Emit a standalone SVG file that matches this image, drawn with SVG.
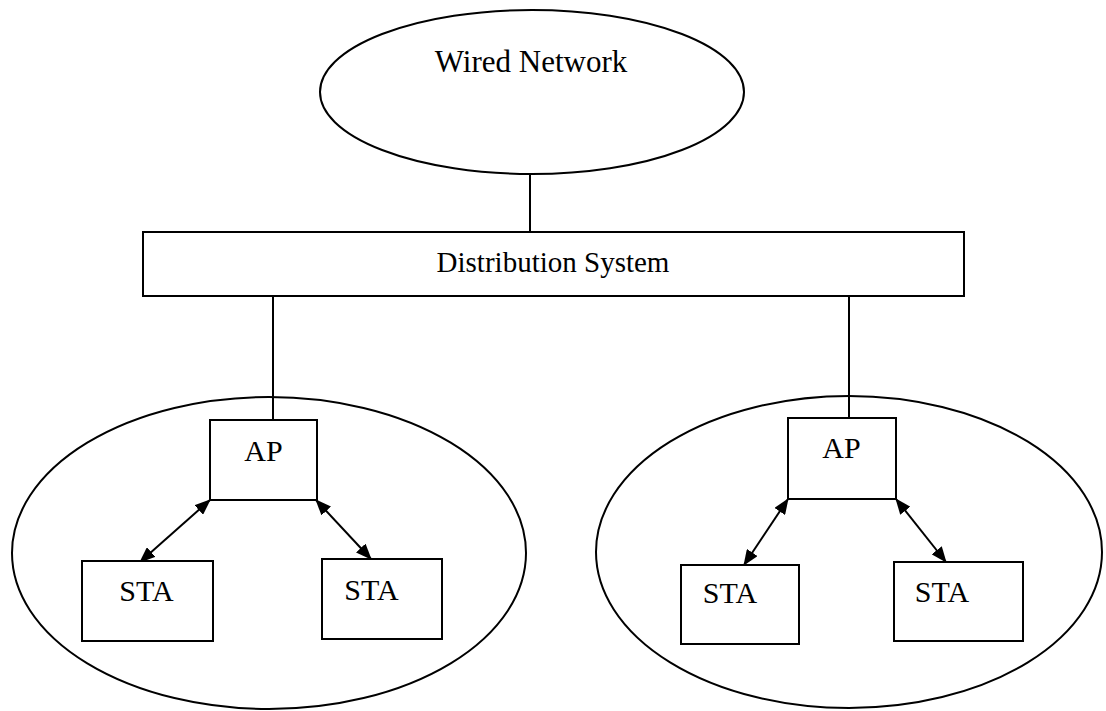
<svg xmlns="http://www.w3.org/2000/svg" width="1106" height="711" viewBox="0 0 1106 711">
<style>
.shape{fill:#fff;stroke:#000;stroke-width:2}
.ln{stroke:#000;stroke-width:2;fill:none}
.arr{stroke:#000;stroke-width:2;fill:none;marker-start:url(#ah);marker-end:url(#ah)}
text{font-family:"Liberation Serif","Times New Roman",serif;fill:#000;text-anchor:middle}
.big{font-size:31px}
.mid{font-size:29px}
.lbl{font-size:30px}
</style>
<defs>
<marker id="ah" markerUnits="userSpaceOnUse" markerWidth="16" markerHeight="13" viewBox="0 0 16 13" refX="15" refY="6.5" orient="auto-start-reverse">
<path d="M0,0 L16,6.5 L0,13 z" fill="#000"/>
</marker>
</defs>
<rect width="1106" height="711" fill="#fff"/>
<g id="bss-left-area"><ellipse class="shape" cx="269" cy="553" rx="257" ry="156"/></g>
<g id="bss-right-area"><ellipse class="shape" cx="849" cy="552" rx="253" ry="156"/></g>
<g id="connectors">
<line class="ln" x1="530" y1="174" x2="530" y2="232"/>
<line class="ln" x1="273" y1="296" x2="273" y2="420"/>
<line class="ln" x1="849" y1="296" x2="849" y2="418"/>
<line class="arr" x1="210" y1="500" x2="140" y2="562"/>
<line class="arr" x1="316" y1="500" x2="371" y2="559"/>
<line class="arr" x1="788" y1="499" x2="744" y2="565"/>
<line class="arr" x1="896" y1="499" x2="946" y2="562"/>
</g>
<g id="wired-network"><ellipse class="shape" cx="532" cy="92" rx="212" ry="82"/><text class="big" x="531" y="72">Wired Network</text></g>
<g id="distribution-system"><rect class="shape" x="143" y="232" width="821" height="64"/><text class="mid" x="553" y="272">Distribution System</text></g>
<g id="ap-left"><rect class="shape" x="210" y="420" width="107" height="80"/><text class="lbl" x="263.5" y="461">AP</text></g>
<g id="sta-left-1"><rect class="shape" x="82" y="561" width="131" height="80"/><text class="lbl" x="146.5" y="601">STA</text></g>
<g id="sta-left-2"><rect class="shape" x="322" y="559" width="120" height="80"/><text class="lbl" x="371.5" y="600">STA</text></g>
<g id="ap-right"><rect class="shape" x="788" y="418" width="108" height="81"/><text class="lbl" x="841.5" y="458">AP</text></g>
<g id="sta-right-1"><rect class="shape" x="681" y="565" width="118" height="79"/><text class="lbl" x="730" y="603">STA</text></g>
<g id="sta-right-2"><rect class="shape" x="894" y="562" width="129" height="79"/><text class="lbl" x="942" y="602">STA</text></g>
</svg>
